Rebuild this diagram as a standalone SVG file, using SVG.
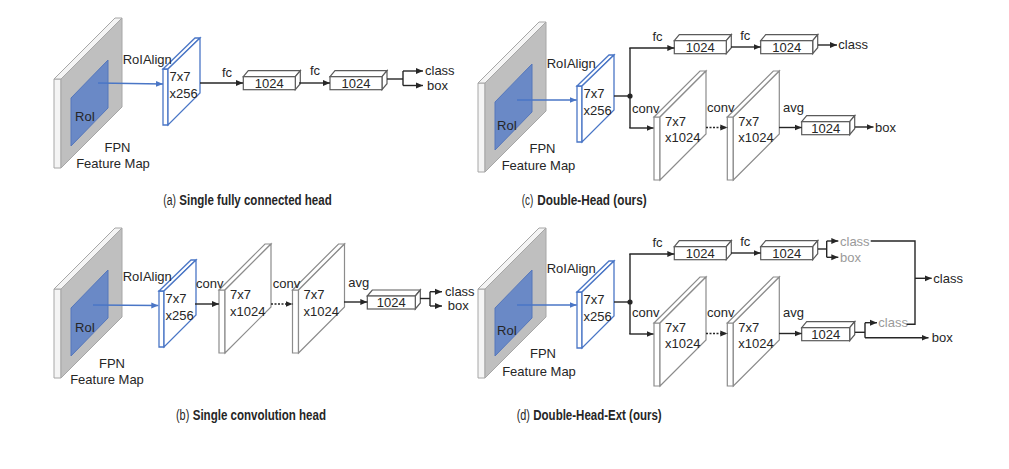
<svg xmlns="http://www.w3.org/2000/svg" width="1009" height="469" viewBox="0 0 1009 469">
<style>
.t{font-family:"Liberation Sans",Arial,sans-serif;font-size:13px;fill:#262626}
.cap{font-size:14px}
.g{fill:#9a9a9a}
.b{font-weight:bold}
.mid{text-anchor:middle}
.fface{fill:#bfbfbf;stroke:#a6a6a6;stroke-width:1}
.fside{fill:#f4f4f4;stroke:#a6a6a6;stroke-width:1}
.roi{fill:#6a89c6;stroke:#5577bb;stroke-width:1}
.rs{fill:#fff;stroke:#4a76c6;stroke-width:1.3}
.cv{fill:#fff;stroke:#8c8c8c;stroke-width:1.2}
.bx{fill:#fff;stroke:#5a5a5a;stroke-width:1.2}
.ln{stroke:#262626;stroke-width:1.4;fill:none}
.bl{stroke:#4a76c6;stroke-width:1.4;fill:none}
.dt{stroke-dasharray:2,1.5}
</style>
<defs>
<marker id="ah" markerWidth="8" markerHeight="7" refX="7" refY="3.5" orient="auto" markerUnits="userSpaceOnUse"><path d="M0,0.5 L7,3.5 L0,6.5z" fill="#262626"/></marker>
<marker id="ahb" markerWidth="8" markerHeight="7" refX="7" refY="3.5" orient="auto" markerUnits="userSpaceOnUse"><path d="M0,0.5 L7,3.5 L0,6.5z" fill="#4a76c6"/></marker>
<g id="fpnShape">
<polygon class="fside" points="-7,0 0,0 0,89 -7,89"/>
<polygon class="fside" points="-7,0 54,-61 61,-61 0,0"/>
<polygon class="fface" points="0,0 61,-61 61,28 0,89"/>
<polygon class="roi" points="10,19 47,-19 47,29 10,67"/>
</g>
<g id="roiSlab">
<polygon class="rs" points="-5,0 0,0 0,56 -5,56"/>
<polygon class="rs" points="-5,0 27,-31 32,-31 0,0"/>
<polygon class="rs" points="0,0 32,-31 32,24 0,56"/>
</g>
<g id="convSlab">
<polygon class="cv" points="-6,0 0,0 0,63 -6,63"/>
<polygon class="cv" points="-6,0 40,-46 46,-46 0,0"/>
<polygon class="cv" points="0,0 46,-46 46,17 0,63"/>
</g>
<g id="fcBox">
<polygon class="bx" points="0,0 5,-6 57,-6 52,0"/>
<polygon class="bx" points="52,0 57,-6 57,7 52,13"/>
<rect class="bx" x="0" y="0" width="52" height="13"/>
</g>
<g id="avgBox">
<polygon class="bx" points="0,0 5,-6 53,-6 48,0"/>
<polygon class="bx" points="48,0 53,-6 53,7 48,13"/>
<rect class="bx" x="0" y="0" width="48" height="13"/>
</g>
</defs>
<rect width="1009" height="469" fill="#fff"/>

<!-- ===== Panel (a) ===== -->
<g id="a-fpn">
<use href="#fpnShape" x="61" y="79"/>
<text class="t" x="75" y="121">RoI</text>
<text class="t mid" x="117.5" y="151.5">FPN</text>
<text class="t mid" x="113" y="167.5">Feature Map</text>
</g>
<g id="a-roifeat">
<use href="#roiSlab" x="168" y="69"/>
<text class="t" x="169.5" y="81">7x7</text>
<text class="t" x="169.5" y="97.5">x256</text>
</g>
<g id="a-fc1"><use href="#fcBox" x="243.3" y="76.7"/><text class="t mid" x="269.3" y="87.5">1024</text></g>
<g id="a-fc2"><use href="#fcBox" x="330" y="76.7"/><text class="t mid" x="356" y="87.5">1024</text></g>
<g id="a-out">
<text class="t" x="425" y="75">class</text>
<text class="t" x="427" y="89.5">box</text>
</g>
<g id="a-connectors">
<line class="bl" x1="98" y1="83" x2="163" y2="84" marker-end="url(#ahb)"/>
<text class="t" x="122.7" y="64">RoIAlign</text>
<line class="ln" x1="200" y1="83" x2="243" y2="83" marker-end="url(#ah)"/>
<text class="t mid" x="227" y="77">fc</text>
<line class="ln" x1="299" y1="83" x2="330" y2="83" marker-end="url(#ah)"/>
<text class="t mid" x="315" y="75">fc</text>
<polyline class="ln" points="387,79 403,79"/>
<line class="ln" x1="403" y1="71" x2="403" y2="85.5"/>
<line class="ln" x1="403" y1="71" x2="423" y2="71" marker-end="url(#ah)"/>
<line class="ln" x1="403" y1="85.5" x2="423" y2="85.5" marker-end="url(#ah)"/>
</g>
<text class="t cap" x="163.3" y="205" textLength="12.7" lengthAdjust="spacingAndGlyphs">(a)</text>
<text class="t cap b" x="179.3" y="205" textLength="152.4" lengthAdjust="spacingAndGlyphs">Single fully connected head</text>

<!-- ===== Panel (b) ===== -->
<g id="b-fpn">
<use href="#fpnShape" x="61" y="289"/>
<text class="t" x="75" y="331.5">RoI</text>
<text class="t mid" x="112" y="367.8">FPN</text>
<text class="t mid" x="107" y="383.5">Feature Map</text>
</g>
<g id="b-roifeat">
<use href="#roiSlab" x="164" y="291"/>
<text class="t" x="165.5" y="303">7x7</text>
<text class="t" x="165.5" y="319.5">x256</text>
</g>
<g id="b-conv1">
<use href="#convSlab" x="225" y="290"/>
<text class="t" x="230" y="299">7x7</text>
<text class="t" x="230" y="316">x1024</text>
</g>
<g id="b-conv2">
<use href="#convSlab" x="298.5" y="290"/>
<text class="t" x="303.5" y="299">7x7</text>
<text class="t" x="303.5" y="316">x1024</text>
</g>
<g id="b-avg"><use href="#avgBox" x="367.3" y="296"/><text class="t mid" x="391.3" y="306.8">1024</text></g>
<g id="b-out">
<text class="t" x="445" y="296.2">class</text>
<text class="t" x="447.7" y="309.5">box</text>
</g>
<g id="b-connectors">
<line class="bl" x1="93" y1="305" x2="158.3" y2="305.5" marker-end="url(#ahb)"/>
<text class="t" x="122.7" y="281">RoIAlign</text>
<line class="ln" x1="195" y1="304" x2="219" y2="304" marker-end="url(#ah)"/>
<text class="t" x="196" y="288">conv</text>
<line class="ln dt" x1="271" y1="304" x2="292.5" y2="304" marker-end="url(#ah)"/>
<text class="t" x="272.7" y="288">conv</text>
<line class="ln" x1="344" y1="302" x2="367.3" y2="302" marker-end="url(#ah)"/>
<text class="t" x="348.3" y="287">avg</text>
<polyline class="ln" points="420,298.5 430,298.5"/>
<line class="ln" x1="430" y1="291.7" x2="430" y2="306"/>
<line class="ln" x1="430" y1="291.7" x2="442" y2="291.7" marker-end="url(#ah)"/>
<line class="ln" x1="430" y1="306" x2="442" y2="306" marker-end="url(#ah)"/>
</g>
<text class="t cap" x="176" y="420" textLength="13.3" lengthAdjust="spacingAndGlyphs">(b)</text>
<text class="t cap b" x="192.7" y="420" textLength="133.3" lengthAdjust="spacingAndGlyphs">Single convolution head</text>

<!-- ===== Panel (c) ===== -->
<g id="c-fpn">
<use href="#fpnShape" x="485" y="83"/>
<text class="t" x="497" y="129.5">RoI</text>
<text class="t mid" x="542.5" y="152.5">FPN</text>
<text class="t mid" x="538.5" y="169.5">Feature Map</text>
</g>
<g id="c-roifeat">
<use href="#roiSlab" x="582" y="86"/>
<text class="t" x="583.5" y="98">7x7</text>
<text class="t" x="583.5" y="114.5">x256</text>
</g>
<g id="c-fc1"><use href="#fcBox" x="674.3" y="40.7"/><text class="t mid" x="700.3" y="51.5">1024</text></g>
<g id="c-fc2"><use href="#fcBox" x="760.7" y="40.7"/><text class="t mid" x="786.7" y="51.5">1024</text></g>
<g id="c-conv1">
<use href="#convSlab" x="660" y="117"/>
<text class="t" x="665" y="125.5">7x7</text>
<text class="t" x="665" y="142">x1024</text>
</g>
<g id="c-conv2">
<use href="#convSlab" x="733.3" y="117"/>
<text class="t" x="738.3" y="125.5">7x7</text>
<text class="t" x="738.3" y="142">x1024</text>
</g>
<g id="c-avg"><use href="#avgBox" x="801.7" y="121.7"/><text class="t mid" x="825.7" y="132.5">1024</text></g>
<g id="c-out">
<text class="t" x="838.3" y="48.5">class</text>
<text class="t" x="875" y="131.5">box</text>
</g>
<g id="c-connectors">
<line class="bl" x1="517" y1="100" x2="576.7" y2="100" marker-end="url(#ahb)"/>
<text class="t" x="546.7" y="67.8">RoIAlign</text>
<line class="ln" x1="614" y1="96" x2="630" y2="96"/>
<circle cx="630" cy="96" r="2.6" fill="#262626"/>
<line class="ln" x1="630" y1="48" x2="630" y2="128"/>
<line class="ln" x1="629.3" y1="48" x2="674.3" y2="48" marker-end="url(#ah)"/>
<text class="t mid" x="657.5" y="41">fc</text>
<line class="ln" x1="629.3" y1="128" x2="653.5" y2="128" marker-end="url(#ah)"/>
<text class="t" x="632" y="112.5">conv</text>
<line class="ln" x1="731" y1="47" x2="760.7" y2="47" marker-end="url(#ah)"/>
<text class="t mid" x="745.3" y="39.5">fc</text>
<line class="ln" x1="818" y1="45" x2="837" y2="45" marker-end="url(#ah)"/>
<line class="ln dt" x1="706" y1="127.5" x2="727.3" y2="127.5" marker-end="url(#ah)"/>
<text class="t" x="707" y="112">conv</text>
<line class="ln" x1="779" y1="127.5" x2="801.7" y2="127.5" marker-end="url(#ah)"/>
<text class="t" x="783" y="112">avg</text>
<line class="ln" x1="855" y1="127" x2="873.5" y2="127" marker-end="url(#ah)"/>
</g>
<text class="t cap" x="521.7" y="205" textLength="11.6" lengthAdjust="spacingAndGlyphs">(c)</text>
<text class="t cap b" x="537.3" y="205" textLength="109.4" lengthAdjust="spacingAndGlyphs">Double-Head (ours)</text>

<!-- ===== Panel (d) ===== -->
<g id="d-fpn">
<use href="#fpnShape" x="485" y="289"/>
<text class="t" x="497" y="335">RoI</text>
<text class="t mid" x="543" y="358">FPN</text>
<text class="t mid" x="539" y="375.5">Feature Map</text>
</g>
<g id="d-roifeat">
<use href="#roiSlab" x="582" y="292"/>
<text class="t" x="583.5" y="304">7x7</text>
<text class="t" x="583.5" y="320.5">x256</text>
</g>
<g id="d-fc1"><use href="#fcBox" x="674.3" y="246.7"/><text class="t mid" x="700.3" y="257.5">1024</text></g>
<g id="d-fc2"><use href="#fcBox" x="760.7" y="246.7"/><text class="t mid" x="786.7" y="257.5">1024</text></g>
<g id="d-conv1">
<use href="#convSlab" x="660" y="323"/>
<text class="t" x="665" y="331.5">7x7</text>
<text class="t" x="665" y="348">x1024</text>
</g>
<g id="d-conv2">
<use href="#convSlab" x="733.3" y="323"/>
<text class="t" x="738.3" y="331.5">7x7</text>
<text class="t" x="738.3" y="348">x1024</text>
</g>
<g id="d-avg"><use href="#avgBox" x="801.7" y="327.7"/><text class="t mid" x="825.7" y="338.5">1024</text></g>
<g id="d-out">
<text class="t g" x="840" y="245.5">class</text>
<text class="t g" x="840" y="261.8">box</text>
<text class="t g" x="878.3" y="327.2">class</text>
<text class="t" x="933.3" y="282.8">class</text>
<text class="t" x="931.7" y="342.2">box</text>
</g>
<g id="d-connectors">
<line class="bl" x1="517" y1="305" x2="576.7" y2="305" marker-end="url(#ahb)"/>
<text class="t" x="546.7" y="273">RoIAlign</text>
<line class="ln" x1="614" y1="302" x2="630" y2="302"/>
<circle cx="630" cy="302" r="2.6" fill="#262626"/>
<line class="ln" x1="630" y1="254" x2="630" y2="334"/>
<line class="ln" x1="629.3" y1="254" x2="674.3" y2="254" marker-end="url(#ah)"/>
<text class="t mid" x="657.5" y="247">fc</text>
<line class="ln" x1="629.3" y1="334" x2="653.5" y2="334" marker-end="url(#ah)"/>
<text class="t" x="632" y="317">conv</text>
<line class="ln" x1="731" y1="253" x2="760.7" y2="253" marker-end="url(#ah)"/>
<text class="t mid" x="745.3" y="245.5">fc</text>
<line class="ln" x1="818" y1="249" x2="826.7" y2="249"/>
<line class="ln" x1="826.7" y1="241" x2="826.7" y2="257.3"/>
<line class="ln" x1="826.7" y1="241" x2="838.3" y2="241" marker-end="url(#ah)"/>
<line class="ln" x1="826.7" y1="257.3" x2="838.3" y2="257.3" marker-end="url(#ah)"/>
<polyline class="ln" points="870.7,241 915,241 915,324.3 906.7,324.3"/>
<line class="ln" x1="915" y1="278.3" x2="931.7" y2="278.3" marker-end="url(#ah)"/>
<line class="ln dt" x1="706" y1="333.5" x2="727.3" y2="333.5" marker-end="url(#ah)"/>
<text class="t" x="707" y="317">conv</text>
<line class="ln" x1="779" y1="333.5" x2="801.7" y2="333.5" marker-end="url(#ah)"/>
<text class="t" x="783" y="317">avg</text>
<line class="ln" x1="855" y1="332.3" x2="865" y2="332.3"/>
<line class="ln" x1="865" y1="322.7" x2="865" y2="337.7"/>
<line class="ln" x1="865" y1="322.7" x2="877" y2="322.7" marker-end="url(#ah)"/>
<line class="ln" x1="865" y1="337.7" x2="928.5" y2="337.7" marker-end="url(#ah)"/>
</g>
<text class="t cap" x="516.7" y="420" textLength="13.3" lengthAdjust="spacingAndGlyphs">(d)</text>
<text class="t cap b" x="533.3" y="420" textLength="128.4" lengthAdjust="spacingAndGlyphs">Double-Head-Ext (ours)</text>
</svg>
